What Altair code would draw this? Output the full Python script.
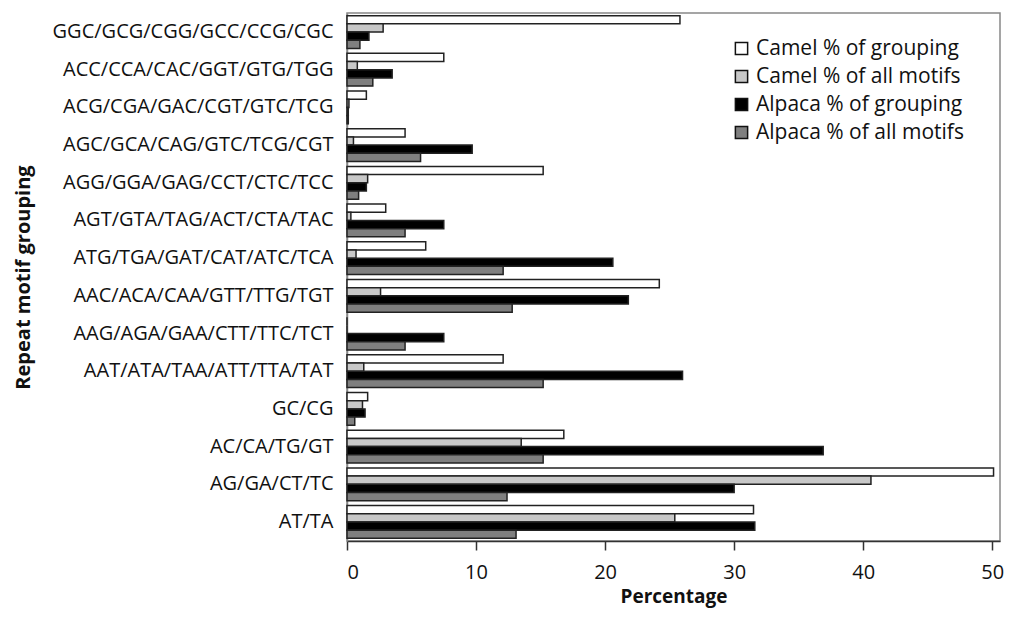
import altair as alt
import pandas as pd

categories = [
    "GGC/GCG/CGG/GCC/CCG/CGC",
    "ACC/CCA/CAC/GGT/GTG/TGG",
    "ACG/CGA/GAC/CGT/GTC/TCG",
    "AGC/GCA/CAG/GTC/TCG/CGT",
    "AGG/GGA/GAG/CCT/CTC/TCC",
    "AGT/GTA/TAG/ACT/CTA/TAC",
    "ATG/TGA/GAT/CAT/ATC/TCA",
    "AAC/ACA/CAA/GTT/TTG/TGT",
    "AAG/AGA/GAA/CTT/TTC/TCT",
    "AAT/ATA/TAA/ATT/TTA/TAT",
    "GC/CG",
    "AC/CA/TG/GT",
    "AG/GA/CT/TC",
    "AT/TA",
]
series = [
    "Camel % of grouping",
    "Camel % of all motifs",
    "Alpaca % of grouping",
    "Alpaca % of all motifs",
]
camel_grouping = [25.8, 7.5, 1.5, 4.5, 15.2, 3.0, 6.1, 24.2, 0.0, 12.1, 1.6, 16.8, 50.1, 31.5]
camel_all = [2.8, 0.8, 0.15, 0.5, 1.6, 0.3, 0.7, 2.6, 0.0, 1.3, 1.2, 13.5, 40.6, 25.4]
alpaca_grouping = [1.7, 3.5, 0.1, 9.7, 1.5, 7.5, 20.6, 21.8, 7.5, 26.0, 1.4, 36.9, 30.0, 31.6]
alpaca_all = [1.0, 2.0, 0.1, 5.7, 0.9, 4.5, 12.1, 12.8, 4.5, 15.2, 0.6, 15.2, 12.4, 13.1]
colors = ["#ffffff", "#c8c8c8", "#000000", "#7f7f7f"]
x_ticks = [0, 10, 20, 30, 40, 50]

rows = []
for s, vals in zip(series, [camel_grouping, camel_all, alpaca_grouping, alpaca_all]):
    for c, v in zip(categories, vals):
        rows.append({"grouping": c, "series": s, "value": v})
df = pd.DataFrame(rows)

font = "Open Sans"
H = 528

chart = alt.Chart(df).mark_bar(stroke="#222222", strokeWidth=1.5).encode(
    y=alt.Y("grouping:N", sort=categories,
            scale=alt.Scale(paddingInner=0.13, paddingOuter=0.07),
            axis=alt.Axis(title="Repeat motif grouping", titleFontSize=20, titleFontWeight="bold",
                          titleFont=font, titleColor="#111", titleX=-324, titleY=H / 2,
                          titleAngle=-90, titleAlign="center", titleBaseline="middle",
                          labelFont=font, labelFontSize=20, labelColor="#111", labelPadding=14,
                          ticks=False, domainColor="#888", domainWidth=1.5, labelLimit=400)),
    yOffset=alt.YOffset("series:N", sort=series),
    x=alt.X("value:Q", scale=alt.Scale(domain=[0, 50.6], nice=False),
            axis=alt.Axis(title="Percentage", values=x_ticks, grid=False,
                          titleFontSize=19, titleFontWeight="bold", titleFont=font, titleColor="#111",
                          titlePadding=5,
                          labelFont=font, labelFontSize=20, labelColor="#111", labelPadding=12,
                          tickSize=9, tickColor="#333", tickWidth=1.5,
                          domainColor="#333", domainWidth=1.5)),
    fill=alt.Fill("series:N", sort=series,
                  scale=alt.Scale(domain=series, range=colors),
                  legend=alt.Legend(title=None, orient="none", legendX=384, legendY=25, padding=0,
                                    symbolType="square", symbolSize=150, symbolStrokeColor="#111",
                                    symbolStrokeWidth=1.5, labelFont=font, labelFontSize=21,
                                    labelColor="#111", rowPadding=6, labelOffset=4, labelLimit=300)),
).properties(
    width=653, height=H,
    padding={"left": 5, "top": 5, "right": 0, "bottom": 5},
).configure_view(stroke="#888888", strokeWidth=1.5)

chart.save("out.html", embed_options={"renderer": "svg", "actions": False})
